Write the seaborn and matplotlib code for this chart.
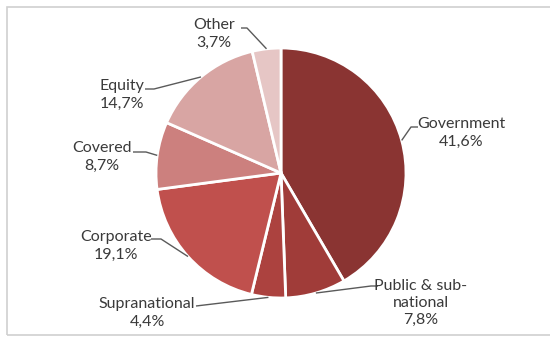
import numpy as np
import matplotlib
matplotlib.use("Agg")
import matplotlib.pyplot as plt
import seaborn as sns

categories = ["Government", "Public & sub-\nnational", "Supranational", "Corporate",
              "Covered", "Equity", "Other"]
values = [41.6, 7.8, 4.4, 19.1, 8.7, 14.7, 3.7]
colors = ["#8A3432", "#A03C39", "#AC423F", "#C0504D", "#CC807E", "#D8A5A3", "#E6C6C5"]

# label layout in pixel coords (x, y from top): text centre, elbow start, elbow end
label_pos = [(461, 133), (421, 303), (147, 313), (116, 246), (102, 157), (122, 95), (214, 34)]
leader_start = [(418, 127), (378, 286), (196, 306), (151, 239), (133, 152), (145, 89), (241, 28)]
leader_elbow = [(411, 127), (371, 286), (196, 306), (161, 239), (146, 152), (154, 89), (247, 28)]

W, H = 550, 338
sns.set_theme(style="white")
plt.rcParams["font.family"] = ["Lato", "DejaVu Sans"]

fig = plt.figure(figsize=(W / 100, H / 100), dpi=100)
ax = fig.add_axes([0, 0, 1, 1])

cx, cy, r = 281, H - 173, 125
pal = sns.color_palette(colors)
wedges, _ = ax.pie(values, colors=pal, startangle=90, counterclock=False,
                   center=(cx, cy), radius=r, frame=True,
                   wedgeprops=dict(edgecolor="white", linewidth=2))
ax.set_xlim(0, W)
ax.set_ylim(0, H)
ax.axis("off")

txt_color = "#3A3A3A"
for w, lab, v, lp, ls, le in zip(wedges, categories, values, label_pos, leader_start, leader_elbow):
    ang = np.deg2rad((w.theta1 + w.theta2) / 2)
    ex, ey = cx + r * np.cos(ang), cy + r * np.sin(ang)
    xs = [ls[0], le[0], ex]
    ys = [H - ls[1], H - le[1], ey]
    ax.plot(xs, ys, color="#5a5a5a", lw=1.0, solid_capstyle="butt")
    label = f"{lab}\n{v:.1f}%".replace(".", ",")
    ax.text(lp[0], H - lp[1], label, ha="center", va="center", fontsize=11.5,
            color=txt_color, linespacing=1.3)

# chart border
fig.patches.append(plt.Rectangle((7 / W, 3 / H), 1.2, (H - 10) / H, transform=fig.transFigure,
                                 fill=False, edgecolor="#D0D0D0", lw=1.2))

fig.savefig("out.png", dpi=100, facecolor="white")
